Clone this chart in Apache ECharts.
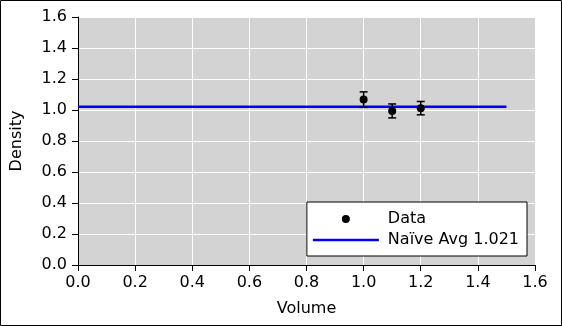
<!DOCTYPE html>
<html><head><meta charset="utf-8">
<script src="https://cdn.jsdelivr.net/npm/echarts@6/dist/echarts.min.js"></script>
<style>html,body{margin:0;padding:0;background:#fff}#c{width:562px;height:326px}</style>
</head><body><div id="c"></div>
<script>
const volumes = [1.0, 1.1, 1.2];
const densities = [1.067, 0.994, 1.012];
const errors = [0.05, 0.045, 0.043];
const avgValue = 1.021;
const avgLineX = [0, 1.5];
const xTicks = [0, 0.2, 0.4, 0.6, 0.8, 1.0, 1.2, 1.4, 1.6];
const yTicks = [0, 0.2, 0.4, 0.6, 0.8, 1.0, 1.2, 1.4, 1.6];
const legendNames = ['Data', 'Na\u00efve Avg 1.021'];

const FONT = 'DejaVu Sans';
const FS = 16;
const chart = echarts.init(document.getElementById('c'), null, {renderer: 'canvas'});
const pts = volumes.map((v, i) => [v, densities[i]]);
const errData = volumes.map((v, i) => [v, densities[i] - errors[i], densities[i] + errors[i]]);

function axisCommon(name, gap, ticks, margin) {
  return {
    type: 'value', min: ticks[0], max: ticks[ticks.length - 1], interval: 0.2,
    name: name, nameLocation: 'middle', nameGap: gap,
    nameTextStyle: {fontFamily: FONT, fontSize: FS, color: '#000'},
    axisLine: {show: true, onZero: false, lineStyle: {color: '#000', width: 1}},
    axisTick: {show: true, inside: false, length: 6, lineStyle: {color: '#000', width: 1}},
    axisLabel: {fontFamily: FONT, fontSize: FS, color: '#000', margin: margin,
      formatter: v => v.toFixed(1)},
    splitLine: {show: true, lineStyle: {color: '#ffffff', width: 1}}
  };
}

const option = {
  animation: false,
  grid: {left: 78, right: 27, top: 17, bottom: 61, show: true,
    backgroundColor: '#d3d3d3', borderWidth: 0},
  xAxis: axisCommon('Volume', 36, xTicks, 10),
  yAxis: axisCommon('Density', 53, yTicks, 11),
  legend: {
    data: [
      {name: legendNames[0], icon: 'circle'},
      {name: legendNames[1], icon: 'path://M0,0 L66,0 L66,2.7 L0,2.7 Z'}
    ],
    orient: 'vertical', right: 35, bottom: 70,
    itemWidth: 66, itemHeight: 8, itemGap: 5,
    padding: [9, 8, 8, 6],
    backgroundColor: '#ffffff', borderColor: '#000', borderWidth: 1, borderRadius: 0,
    textStyle: {fontFamily: FONT, fontSize: FS, color: '#000', padding: [0, 0, 0, 4]},
    selectedMode: false
  },
  series: [
    {
      name: legendNames[1], type: 'line', data: [[avgLineX[0], avgValue], [avgLineX[1], avgValue]],
      symbol: 'none', lineStyle: {color: '#0000ff', width: 2.6}, itemStyle: {color: '#0000ff'}, z: 2
    },
    {
      type: 'custom', data: errData, z: 3,
      renderItem: function (params, api) {
        const x = api.value(0);
        const lo = api.coord([x, api.value(1)]);
        const hi = api.coord([x, api.value(2)]);
        const cw = 4;
        const st = {stroke: '#000', lineWidth: 1.5};
        return {type: 'group', children: [
          {type: 'line', shape: {x1: lo[0], y1: lo[1], x2: hi[0], y2: hi[1]}, style: st},
          {type: 'line', shape: {x1: lo[0] - cw, y1: lo[1], x2: lo[0] + cw, y2: lo[1]}, style: st},
          {type: 'line', shape: {x1: hi[0] - cw, y1: hi[1], x2: hi[0] + cw, y2: hi[1]}, style: st}
        ]};
      }
    },
    {
      name: legendNames[0], type: 'scatter', data: pts, symbol: 'circle', symbolSize: 8,
      itemStyle: {color: '#000', opacity: 1}, z: 4
    }
  ],
  graphic: [{type: 'rect', z: 100, silent: true,
    shape: {x: 0.5, y: 0.5, width: 561, height: 325},
    style: {fill: null, stroke: '#000', lineWidth: 1}}]
};
chart.setOption(option);
</script></body></html>
